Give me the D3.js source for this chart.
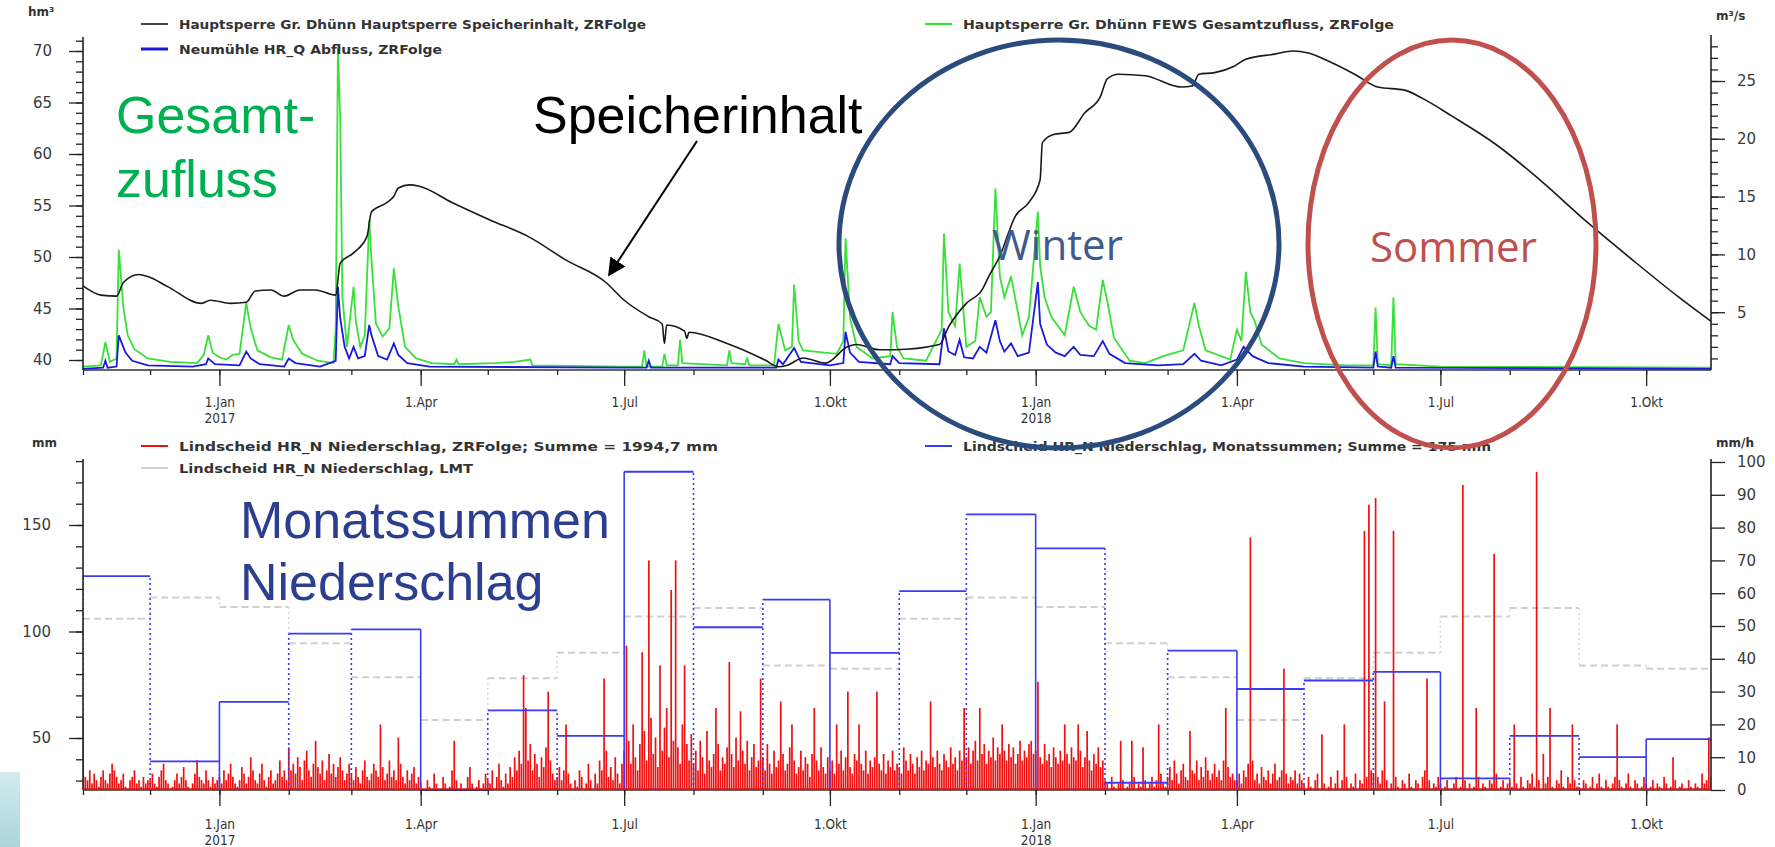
<!DOCTYPE html>
<html lang="de">
  <head>
    <meta charset="UTF-8" />
    <title>Große Dhünn – Speicherinhalt und Niederschlag</title>
    <style>
      body { margin: 0; background: #fff; }
      svg { display: block; }
      .ylab text { font-family: "DejaVu Sans", sans-serif; font-size: 15px; fill: #3a3a3a; }
      .xlab text { font-family: "DejaVu Sans Condensed", "DejaVu Sans", sans-serif; font-size: 13.5px; fill: #333; }
      .tick line { stroke: #222; stroke-width: 1.3; }
      .legend { font-family: "DejaVu Sans Condensed", "DejaVu Sans", sans-serif; font-size: 13px; font-weight: bold; fill: #333; }
      .unit { font-family: "DejaVu Sans", sans-serif; font-size: 12px; font-weight: bold; fill: #333; }
      .big { font-family: "Liberation Sans", Arial, sans-serif; font-size: 52px; }
      .season { font-family: "Open Sans", sans-serif; font-size: 42px; }
    </style>
  </head>
  <body>
    <script src="https://cdn.jsdelivr.net/npm/d3@7"></script>
    <script>
      const width = 1775,
        height = 847;

      // --- data ---
      // Speicherinhalt Hauptsperre [hm³]
      const storagePts = [
        ["2016-11-01", 47.2], ["2016-11-09", 46.3], ["2016-11-16", 46.2], ["2016-11-19", 47.5],
        ["2016-11-26", 48.3], ["2016-11-30", 48.1], ["2016-12-09", 47.1], ["2016-12-24", 45.5],
        ["2016-12-28", 45.8], ["2017-01-06", 45.5], ["2017-01-13", 45.6], ["2017-01-17", 46.7],
        ["2017-01-24", 46.8], ["2017-01-30", 46.2], ["2017-02-06", 46.8], ["2017-02-13", 46.8],
        ["2017-02-22", 46.3], ["2017-02-24", 49.4], ["2017-03-02", 50.4], ["2017-03-08", 52.0],
        ["2017-03-10", 54.4], ["2017-03-17", 55.3], ["2017-03-20", 55.9], ["2017-03-22", 56.7],
        ["2017-03-27", 57.0], ["2017-03-31", 56.9], ["2017-04-15", 55.3], ["2017-05-02", 53.6],
        ["2017-05-19", 52.0], ["2017-06-05", 49.7], ["2017-06-23", 47.5], ["2017-07-01", 45.8],
        ["2017-07-12", 44.2], ["2017-07-18", 43.5], ["2017-07-19", 41.6], ["2017-07-20", 43.4],
        ["2017-07-28", 42.8], ["2017-07-29", 42.1], ["2017-07-30", 42.7], ["2017-08-16", 41.6],
        ["2017-09-02", 40.0], ["2017-09-08", 39.35], ["2017-09-12", 39.5], ["2017-09-19", 40.2],
        ["2017-09-29", 39.7], ["2017-10-09", 41.3], ["2017-10-13", 41.5], ["2017-10-23", 41.0],
        ["2017-10-30", 41.0], ["2017-11-19", 41.5], ["2017-11-23", 43.2], ["2017-12-01", 45.5],
        ["2017-12-08", 46.8], ["2017-12-11", 48.1], ["2017-12-16", 50.1], ["2017-12-23", 54.0],
        ["2017-12-29", 55.3], ["2018-01-03", 57.5], ["2018-01-04", 61.1], ["2018-01-09", 61.9],
        ["2018-01-16", 62.1], ["2018-01-23", 64.0], ["2018-01-30", 65.6], ["2018-02-02", 67.3],
        ["2018-02-07", 67.75], ["2018-02-19", 67.6], ["2018-03-07", 66.5], ["2018-03-12", 66.6],
        ["2018-03-15", 67.75], ["2018-03-22", 67.9], ["2018-03-31", 68.55], ["2018-04-05", 69.2],
        ["2018-04-18", 69.7], ["2018-04-26", 70.0], ["2018-05-03", 69.8], ["2018-05-13", 68.9],
        ["2018-05-24", 67.7], ["2018-06-03", 66.5], ["2018-06-15", 66.2], ["2018-06-23", 65.4],
        ["2018-07-06", 63.7], ["2018-07-26", 60.9], ["2018-08-15", 57.4], ["2018-09-04", 53.5],
        ["2018-09-25", 49.7], ["2018-10-15", 46.2], ["2018-10-31", 43.6]
      ];

      // FEWS Gesamtzufluss [m³/s]
      const inflowPts = [
        ["2016-11-01", 0.3], ["2016-11-09", 0.4], ["2016-11-11", 2.4], ["2016-11-13", 0.7],
        ["2016-11-16", 1.0], ["2016-11-17", 10.4], ["2016-11-18", 8.0], ["2016-11-19", 5.5],
        ["2016-11-21", 3.0], ["2016-11-24", 1.8], ["2016-11-30", 1.0], ["2016-12-10", 0.7],
        ["2016-12-22", 0.6], ["2016-12-25", 1.3], ["2016-12-27", 3.0], ["2016-12-29", 1.5],
        ["2017-01-01", 1.1], ["2017-01-04", 0.9], ["2017-01-07", 1.3], ["2017-01-10", 1.4],
        ["2017-01-13", 5.8], ["2017-01-15", 3.6], ["2017-01-18", 1.7], ["2017-01-24", 1.1],
        ["2017-01-29", 0.9], ["2017-02-01", 3.9], ["2017-02-03", 2.6], ["2017-02-07", 1.4],
        ["2017-02-14", 0.8], ["2017-02-21", 0.6], ["2017-02-22", 3.5], ["2017-02-23", 27.8],
        ["2017-02-24", 21.8], ["2017-02-25", 6.3], ["2017-02-27", 2.0], ["2017-03-02", 7.2],
        ["2017-03-03", 4.2], ["2017-03-05", 2.0], ["2017-03-07", 3.0], ["2017-03-09", 13.0],
        ["2017-03-10", 9.5], ["2017-03-12", 4.0], ["2017-03-15", 2.9], ["2017-03-18", 3.6],
        ["2017-03-20", 8.8], ["2017-03-22", 5.5], ["2017-03-25", 2.0], ["2017-03-30", 1.0],
        ["2017-04-06", 0.6], ["2017-04-16", 0.5], ["2017-04-17", 0.9], ["2017-04-18", 0.5],
        ["2017-05-04", 0.6], ["2017-05-13", 0.7], ["2017-05-20", 0.9], ["2017-05-21", 0.4],
        ["2017-06-30", 0.3], ["2017-07-09", 0.3], ["2017-07-10", 1.7], ["2017-07-11", 0.3],
        ["2017-07-18", 0.3], ["2017-07-19", 1.4], ["2017-07-20", 0.4], ["2017-07-25", 0.4],
        ["2017-07-26", 2.6], ["2017-07-27", 0.6], ["2017-08-16", 0.4], ["2017-08-17", 1.7],
        ["2017-08-18", 0.6], ["2017-08-24", 0.5], ["2017-08-25", 1.0], ["2017-08-26", 0.4],
        ["2017-09-06", 0.4], ["2017-09-08", 4.0], ["2017-09-11", 1.7], ["2017-09-14", 2.0],
        ["2017-09-15", 7.4], ["2017-09-17", 2.5], ["2017-09-19", 1.7], ["2017-10-04", 1.4],
        ["2017-10-07", 2.5], ["2017-10-08", 11.4], ["2017-10-10", 4.5], ["2017-10-13", 2.0],
        ["2017-10-20", 1.0], ["2017-10-28", 1.2], ["2017-10-29", 5.0], ["2017-10-31", 2.0],
        ["2017-11-03", 1.0], ["2017-11-13", 0.8], ["2017-11-20", 3.5], ["2017-11-21", 11.8],
        ["2017-11-23", 5.0], ["2017-11-26", 3.8], ["2017-11-28", 9.2], ["2017-12-01", 2.0],
        ["2017-12-05", 2.5], ["2017-12-07", 6.3], ["2017-12-10", 4.6], ["2017-12-12", 5.0],
        ["2017-12-14", 15.7], ["2017-12-16", 8.1], ["2017-12-18", 6.3], ["2017-12-21", 8.1],
        ["2017-12-26", 3.0], ["2017-12-29", 4.6], ["2018-01-02", 13.7], ["2018-01-03", 9.0],
        ["2018-01-05", 6.3], ["2018-01-08", 4.6], ["2018-01-14", 3.0], ["2018-01-18", 7.2],
        ["2018-01-21", 5.0], ["2018-01-25", 3.8], ["2018-01-28", 3.5], ["2018-01-31", 7.8],
        ["2018-02-02", 6.0], ["2018-02-05", 2.8], ["2018-02-12", 0.8], ["2018-02-19", 0.6],
        ["2018-02-27", 1.2], ["2018-03-08", 1.7], ["2018-03-13", 5.8], ["2018-03-15", 3.8],
        ["2018-03-18", 1.7], ["2018-03-29", 0.9], ["2018-04-01", 3.5], ["2018-04-03", 2.5],
        ["2018-04-05", 8.5], ["2018-04-07", 5.0], ["2018-04-09", 4.2], ["2018-04-12", 2.2],
        ["2018-04-20", 1.0], ["2018-05-01", 0.6], ["2018-05-20", 0.4], ["2018-06-01", 0.4],
        ["2018-06-02", 5.4], ["2018-06-03", 0.5], ["2018-06-09", 0.4], ["2018-06-10", 6.3],
        ["2018-06-11", 0.5], ["2018-07-01", 0.3], ["2018-10-31", 0.2]
      ];

      // Neumühle Abfluss [m³/s]
      const outflowPts = [
        ["2016-11-01", 0.1], ["2016-11-10", 0.2], ["2016-11-11", 0.8], ["2016-11-12", 0.2],
        ["2016-11-16", 0.3], ["2016-11-17", 3.0], ["2016-11-18", 2.5], ["2016-11-20", 1.5],
        ["2016-11-23", 0.8], ["2016-11-30", 0.4], ["2016-12-20", 0.3], ["2016-12-26", 0.5],
        ["2016-12-27", 1.0], ["2016-12-30", 0.5], ["2017-01-10", 0.4], ["2017-01-13", 1.6],
        ["2017-01-15", 1.0], ["2017-01-19", 0.5], ["2017-01-30", 0.3], ["2017-02-01", 1.0],
        ["2017-02-04", 0.6], ["2017-02-15", 0.3], ["2017-02-22", 0.8], ["2017-02-23", 7.2],
        ["2017-02-24", 4.5], ["2017-02-26", 2.0], ["2017-02-28", 1.0], ["2017-03-02", 2.0],
        ["2017-03-04", 1.0], ["2017-03-07", 1.2], ["2017-03-09", 3.9], ["2017-03-10", 3.0],
        ["2017-03-13", 1.2], ["2017-03-17", 0.9], ["2017-03-20", 2.3], ["2017-03-22", 1.3],
        ["2017-03-26", 0.6], ["2017-04-05", 0.3], ["2017-06-30", 0.2], ["2017-07-11", 0.2],
        ["2017-07-12", 0.8], ["2017-07-13", 0.2], ["2017-09-07", 0.2], ["2017-09-08", 0.9],
        ["2017-09-10", 0.5], ["2017-09-15", 1.9], ["2017-09-18", 0.7], ["2017-10-01", 0.4],
        ["2017-10-07", 0.6], ["2017-10-08", 3.3], ["2017-10-10", 1.5], ["2017-10-14", 0.7],
        ["2017-10-28", 0.5], ["2017-10-29", 1.2], ["2017-11-01", 0.6], ["2017-11-19", 0.5],
        ["2017-11-21", 3.6], ["2017-11-23", 1.6], ["2017-11-26", 1.3], ["2017-11-28", 2.6],
        ["2017-11-30", 1.1], ["2017-12-04", 1.0], ["2017-12-07", 2.0], ["2017-12-10", 1.5],
        ["2017-12-14", 4.3], ["2017-12-16", 2.5], ["2017-12-18", 1.6], ["2017-12-21", 2.3],
        ["2017-12-24", 1.2], ["2017-12-29", 1.5], ["2018-01-02", 7.6], ["2018-01-03", 4.0],
        ["2018-01-06", 2.2], ["2018-01-10", 1.5], ["2018-01-14", 1.2], ["2018-01-18", 2.0],
        ["2018-01-21", 1.3], ["2018-01-27", 1.2], ["2018-01-31", 2.5], ["2018-02-03", 1.4],
        ["2018-02-10", 0.6], ["2018-02-25", 0.4], ["2018-03-08", 0.5], ["2018-03-13", 1.4],
        ["2018-03-16", 0.8], ["2018-03-25", 0.4], ["2018-04-01", 0.9], ["2018-04-04", 2.0],
        ["2018-04-08", 1.2], ["2018-04-15", 0.6], ["2018-05-01", 0.3], ["2018-06-01", 0.2],
        ["2018-06-02", 1.6], ["2018-06-03", 0.3], ["2018-06-09", 0.2], ["2018-06-10", 1.2],
        ["2018-06-11", 0.2], ["2018-10-31", 0.1]
      ];

      // Niederschlag Lindscheid, daily values [mm/h axis], Nov 2016 - Oct 2017 and Nov 2017 - Oct 2018
      const rain1617 = [
        22,4,3,6,2,5,3,1,4,6,3,2,5,8,6,4,2,3,5,1,0,3,4,6,2,3,1,4,2,3,
        3,5,2,1,4,6,8,3,2,0,1,3,5,2,4,7,3,1,0,2,5,9,4,3,2,6,3,1,4,2,3,
        4,2,6,3,5,8,4,2,1,3,7,5,2,4,10,6,3,2,5,8,3,1,4,6,2,3,5,9,4,6,3,
        13,6,8,5,10,7,3,9,12,6,4,8,15,7,5,9,3,6,11,5,8,4,7,10,6,3,5,8,
        5,3,7,4,2,6,9,4,3,5,8,6,4,20,7,3,5,9,4,6,3,16,8,4,2,6,3,5,7,2,4,
        2,0,0,3,1,0,5,2,0,0,4,2,0,1,6,15,3,0,2,0,0,4,7,2,0,1,3,0,2,5,
        3,2,6,0,4,8,3,1,5,2,7,4,10,6,12,8,35,25,9,14,6,11,8,4,10,7,13,30,9,5,3,
        4,7,3,6,20,5,2,0,3,1,6,4,0,2,8,3,0,5,2,9,6,34,12,4,7,3,10,5,2,8,
        12,44,15,8,20,10,6,14,42,18,9,70,22,11,16,7,38,12,19,25,10,61,15,70,13,8,20,38,14,9,17,
        8,12,6,15,10,5,18,9,7,11,25,14,6,10,8,13,39,11,7,16,9,24,12,8,15,6,10,14,7,9,34,
        10,6,14,8,5,12,7,9,27,11,6,8,13,20,9,5,7,12,6,10,8,4,11,25,9,6,13,7,5,10,
        6,9,5,20,8,12,6,10,30,7,5,11,9,20,8,6,12,5,9,7,10,30,8,6,11,5,9,7,12,6,8
      ];
      const rain1718 = [
        7,5,13,9,6,11,8,5,10,7,12,6,9,8,27,10,7,12,8,6,11,9,7,13,8,10,6,12,9,25,
        10,13,8,12,15,9,25,11,14,8,12,10,16,9,13,11,20,12,9,14,10,13,8,11,15,9,12,10,14,15,11,
        12,33,10,8,14,9,11,7,13,10,8,12,9,20,11,8,13,10,9,20,12,7,10,18,9,6,11,8,13,7,9,
        3,2,0,4,1,0,2,15,3,0,1,2,15,4,0,2,1,13,3,0,2,4,1,3,20,5,2,1,
        4,7,3,9,5,2,6,8,4,3,18,6,5,9,3,7,4,10,6,3,5,8,4,6,3,9,25,7,4,5,3,
        3,5,2,6,4,8,77,9,3,5,2,7,4,3,6,2,5,8,3,4,6,37,5,2,4,3,6,2,5,3,
        2,0,4,1,0,3,5,0,17,2,0,1,4,0,2,6,0,3,20,4,0,2,1,5,0,3,2,79,4,87,6,
        5,89,4,2,6,27,3,0,2,79,4,1,0,3,2,0,5,1,0,3,2,0,4,6,34,3,0,2,1,4,
        2,0,1,3,0,0,2,4,0,1,93,3,0,2,0,1,25,4,0,2,1,0,3,2,72,5,0,1,3,0,2,
        3,1,20,2,0,4,1,0,3,2,5,1,97,3,0,11,2,4,25,1,0,3,2,6,1,0,4,2,20,3,1,
        1,0,3,2,0,1,4,0,2,5,1,0,3,1,0,2,4,20,3,1,0,2,5,1,0,3,2,0,1,4,
        2,0,1,3,0,2,1,0,4,2,0,1,10,3,0,1,2,0,0,3,1,0,2,1,0,5,2,3,16,4,2
      ];

      // Monatssummen Nov 2016 .. Okt 2018 [mm]
      const monthlySum = [126, 39, 67, 99, 101, 25, 63, 51, 175, 102, 115, 90,
                          119, 155, 139, 29, 91, 73, 77, 81, 31, 51, 41, 49.5];
      // langjähriges Mittel (LMT), Jan .. Dez [mm]
      const lmtMonthly = [111.5, 94.5, 78.5, 58.5, 78, 90, 107, 111, 84, 82.5, 106, 116];

      const quarterTicks = ["2017-01-01", "2017-04-01", "2017-07-01", "2017-10-01",
                            "2018-01-01", "2018-04-01", "2018-07-01", "2018-10-01"];
      const monthAbbr = ["Jan", "Feb", "Mär", "Apr", "Mai", "Jun", "Jul", "Aug", "Sep", "Okt", "Nov", "Dez"];

      // --- scales ---
      const parse = d3.utcParse("%Y-%m-%d");
      const x = d3.scaleUtc().domain([parse("2016-11-01"), parse("2018-10-30")]).range([83, 1711]);
      const yStore = d3.scaleLinear().domain([40, 70]).range([360, 51]);
      const yFlow = d3.scaleLinear().domain([0, 25]).range([370, 81]);
      const yMm = d3.scaleLinear().domain([50, 150]).range([738, 525]);
      const yRate = d3.scaleLinear().domain([0, 100]).range([790, 462]);

      const svg = d3.select("body").append("svg").attr("width", width).attr("height", height);

      const defs = svg.append("defs");
      defs.append("clipPath").attr("id", "clipT").append("rect").attr("x", 83).attr("y", 30).attr("width", 1628).attr("height", 341);
      defs.append("clipPath").attr("id", "clipB").append("rect").attr("x", 83).attr("y", 455).attr("width", 1628).attr("height", 336);
      defs.append("marker").attr("id", "arrow").attr("viewBox", "0 0 10 10").attr("refX", 9).attr("refY", 5)
        .attr("markerWidth", 9).attr("markerHeight", 9).attr("orient", "auto-start-reverse")
        .append("path").attr("d", "M0,0 L10,5 L0,10 z").attr("fill", "#000");
      const deco = defs.append("linearGradient").attr("id", "deco").attr("x1", 0).attr("x2", 0).attr("y1", 0).attr("y2", 1);
      deco.append("stop").attr("offset", 0).attr("stop-color", "#d3ecee");
      deco.append("stop").attr("offset", 1).attr("stop-color", "#a9d6db");

      // light decoration at the lower left edge
      svg.append("rect").attr("x", 0).attr("y", 772).attr("width", 20).attr("height", 75).attr("fill", "url(#deco)");

      // --- top chart ---
      const gTop = svg.append("g").attr("clip-path", "url(#clipT)");
      const toPts = arr => arr.map(([d, v]) => ({ date: parse(d), value: v }));

      gTop.append("path").datum(toPts(inflowPts))
        .attr("fill", "none").attr("stroke", "#38e038").attr("stroke-width", 1.8)
        .attr("d", d3.line().x(d => x(d.date)).y(d => yFlow(d.value)));
      gTop.append("path").datum(toPts(outflowPts))
        .attr("fill", "none").attr("stroke", "#1a1adb").attr("stroke-width", 1.8)
        .attr("d", d3.line().x(d => x(d.date)).y(d => yFlow(d.value)));
      gTop.append("path").datum(toPts(storagePts))
        .attr("fill", "none").attr("stroke", "#1a1a1a").attr("stroke-width", 1.6)
        .attr("d", d3.line().curve(d3.curveMonotoneX).x(d => x(d.date)).y(d => yStore(d.value)));

      // --- bottom chart ---
      const gBot = svg.append("g").attr("clip-path", "url(#clipB)");
      const monthStarts = d3.utcMonths(parse("2016-11-01"), parse("2018-11-02"));
      const monthData = monthStarts.slice(0, 24).map((d, i) => ({
        start: d, end: monthStarts[i + 1],
        sum: monthlySum[i], prevSum: i ? monthlySum[i - 1] : null,
        lmt: lmtMonthly[d.getUTCMonth()],
        prevLmt: i ? lmtMonthly[monthStarts[i - 1].getUTCMonth()] : null,
        quarter: d.getUTCMonth() % 3 === 0
      }));
      const yB = v => Math.min(yMm(v), 790);

      // LMT (grey dashed steps)
      gBot.selectAll(".lmt-h").data(monthData).join("line")
        .attr("x1", d => x(d.start)).attr("x2", d => x(d.end))
        .attr("y1", d => yB(d.lmt)).attr("y2", d => yB(d.lmt))
        .attr("stroke", "#cfcfcf").attr("stroke-width", 2).attr("stroke-dasharray", "7,4");
      gBot.selectAll(".lmt-v").data(monthData.filter(d => d.prevLmt !== null)).join("line")
        .attr("x1", d => x(d.start)).attr("x2", d => x(d.start))
        .attr("y1", d => yB(d.prevLmt)).attr("y2", d => yB(d.lmt))
        .attr("stroke", "#d8d8d8").attr("stroke-width", 1.5).attr("stroke-dasharray", "2,3");

      // daily precipitation bars
      const rain = rain1617.concat(rain1718).map((v, i) => ({ date: d3.utcDay.offset(parse("2016-11-01"), i), value: v }));
      gBot.selectAll(".rain").data(rain.filter(d => d.value > 0)).join("rect")
        .attr("x", d => x(d.date) - 0.8).attr("width", 1.7)
        .attr("y", d => yRate(d.value)).attr("height", d => 790 - yRate(d.value))
        .attr("fill", "#ee1111");

      // Monatssummen (blue steps): verticals from the axis to the higher neighbour,
      // solid at quarter starts, dotted elsewhere
      gBot.selectAll(".sum-v").data(monthData).join("line")
        .attr("x1", d => x(d.start)).attr("x2", d => x(d.start))
        .attr("y1", 790).attr("y2", d => yB(d.prevSum === null ? d.sum : Math.max(d.sum, d.prevSum)))
        .attr("stroke", "#3b3bf5").attr("stroke-width", 1.6)
        .attr("stroke-dasharray", d => d.quarter ? null : "2,3");
      gBot.selectAll(".sum-h").data(monthData).join("line")
        .attr("x1", d => x(d.start)).attr("x2", d => x(d.end))
        .attr("y1", d => yB(d.sum)).attr("y2", d => yB(d.sum))
        .attr("stroke", "#3b3bf5").attr("stroke-width", 1.8);

      // --- axes ---
      const noDomain = g => g.select(".domain").remove();
      const vLine = (xPos, y1, y2) => svg.append("line").attr("x1", xPos).attr("x2", xPos)
        .attr("y1", y1).attr("y2", y2).attr("stroke", "#222").attr("stroke-width", 1.6);

      // top left (hm³)
      vLine(83, 37, 370);
      svg.append("g").attr("transform", "translate(83,0)")
        .call(d3.axisLeft(yStore).tickValues(d3.range(40, 72)).tickSize(7).tickFormat("")).call(noDomain);
      svg.append("g").attr("class", "ylab").attr("transform", "translate(83,0)")
        .call(d3.axisLeft(yStore).tickValues(d3.range(40, 71, 5)).tickSize(14).tickPadding(17)).call(noDomain);
      // top right (m³/s)
      vLine(1711, 35, 370);
      svg.append("g").attr("transform", "translate(1711,0)")
        .call(d3.axisRight(yFlow).tickValues(d3.range(1, 29)).tickSize(7).tickFormat("")).call(noDomain);
      svg.append("g").attr("class", "ylab").attr("transform", "translate(1711,0)")
        .call(d3.axisRight(yFlow).tickValues(d3.range(5, 26, 5)).tickSize(14).tickPadding(12)).call(noDomain);

      // bottom left (mm)
      vLine(83, 459, 790);
      svg.append("g").attr("transform", "translate(83,0)")
        .call(d3.axisLeft(yMm).tickValues(d3.range(30, 181, 10)).tickSize(7).tickFormat("")).call(noDomain);
      svg.append("g").attr("class", "ylab").attr("transform", "translate(83,0)")
        .call(d3.axisLeft(yMm).tickValues([50, 100, 150]).tickSize(14).tickPadding(18)).call(noDomain);
      // bottom right (mm/h)
      vLine(1711, 459, 790);
      svg.append("g").attr("class", "ylab").attr("transform", "translate(1711,0)")
        .call(d3.axisRight(yRate).tickValues(d3.range(0, 101, 10)).tickSize(14).tickPadding(12)).call(noDomain);

      function xAxis(yPos, pad) {
        svg.append("line").attr("x1", 83).attr("x2", 1711).attr("y1", yPos).attr("y2", yPos)
          .attr("stroke", "#333").attr("stroke-width", 1.6);
        svg.append("g").attr("transform", `translate(0,${yPos})`)
          .call(d3.axisBottom(x).ticks(d3.utcMonth.every(1)).tickSize(5).tickFormat("")).call(noDomain);
        const major = svg.append("g").attr("class", "xlab").attr("transform", `translate(0,${yPos})`)
          .call(d3.axisBottom(x).tickValues(quarterTicks.map(parse)).tickSize(16).tickPadding(pad)
            .tickFormat(d => "1." + monthAbbr[d.getUTCMonth()]))
          .call(noDomain);
        major.selectAll(".tick text").filter(d => d.getUTCMonth() === 0)
          .append("tspan").attr("x", 0).attr("dy", "1.25em").text(d => d.getUTCFullYear());
      }
      xAxis(370, 11);
      xAxis(790, 13);
      // red baseline of the precipitation series
      svg.append("line").attr("x1", 83).attr("x2", 1711).attr("y1", 789).attr("y2", 789)
        .attr("stroke", "#ee1111").attr("stroke-width", 1.5);

      // --- units and legends ---
      svg.append("text").attr("class", "unit").attr("x", 28).attr("y", 16).text("hm³");
      svg.append("text").attr("class", "unit").attr("x", 1716).attr("y", 20).text("m³/s");
      svg.append("text").attr("class", "unit").attr("x", 32).attr("y", 447).text("mm");
      svg.append("text").attr("class", "unit").attr("x", 1716).attr("y", 447).text("mm/h");

      function legendItem(x0, y0, color, sw, label, len) {
        svg.append("line").attr("x1", x0).attr("x2", x0 + 27).attr("y1", y0).attr("y2", y0)
          .attr("stroke", color).attr("stroke-width", sw);
        svg.append("text").attr("class", "legend").attr("x", x0 + 38).attr("y", y0 + 4.5)
          .attr("textLength", len).attr("lengthAdjust", "spacingAndGlyphs").text(label);
      }
      legendItem(141, 24, "#1a1a1a", 1.6, "Hauptsperre Gr. Dhünn Hauptsperre Speicherinhalt, ZRFolge", 467);
      legendItem(141, 49, "#1a1adb", 3, "Neumühle HR_Q Abfluss, ZRFolge", 263);
      legendItem(925, 24, "#38e038", 2.2, "Hauptsperre Gr. Dhünn FEWS Gesamtzufluss, ZRFolge", 431);
      legendItem(141, 446, "#ee1111", 2, "Lindscheid HR_N Niederschlag, ZRFolge; Summe = 1994,7 mm", 539);
      legendItem(141, 468, "#d0d0d0", 2, "Lindscheid HR_N Niederschlag, LMT", 294);
      legendItem(925, 446, "#3b3bf5", 2, "Lindscheid HR_N Niederschlag, Monatssummen; Summe = 175 mm", 528);

      // --- annotations ---
      svg.append("text").attr("class", "big").attr("x", 116).attr("y", 133).attr("fill", "#00b050").text("Gesamt-");
      svg.append("text").attr("class", "big").attr("x", 116).attr("y", 197).attr("fill", "#00b050").text("zufluss");
      svg.append("text").attr("class", "big").attr("x", 533).attr("y", 133).attr("fill", "#000").text("Speicherinhalt");
      svg.append("line").attr("x1", 697).attr("y1", 141).attr("x2", 609).attr("y2", 275)
        .attr("stroke", "#000").attr("stroke-width", 2).attr("marker-end", "url(#arrow)");
      svg.append("text").attr("class", "big").attr("x", 240).attr("y", 538).attr("fill", "#2c3e8f").text("Monatssummen");
      svg.append("text").attr("class", "big").attr("x", 240).attr("y", 600).attr("fill", "#2c3e8f").text("Niederschlag");

      svg.append("ellipse").attr("cx", 1059).attr("cy", 244).attr("rx", 220).attr("ry", 204)
        .attr("fill", "none").attr("stroke", "#2b4b7c").attr("stroke-width", 5);
      svg.append("text").attr("class", "season").attr("x", 992).attr("y", 260).attr("fill", "#3e5b8c").text("Winter");
      svg.append("ellipse").attr("cx", 1452).attr("cy", 244).attr("rx", 144).attr("ry", 204)
        .attr("fill", "none").attr("stroke", "#c0504d").attr("stroke-width", 5);
      svg.append("text").attr("class", "season").attr("x", 1370).attr("y", 262).attr("fill", "#c0504d").text("Sommer");
    </script>
  </body>
</html>
